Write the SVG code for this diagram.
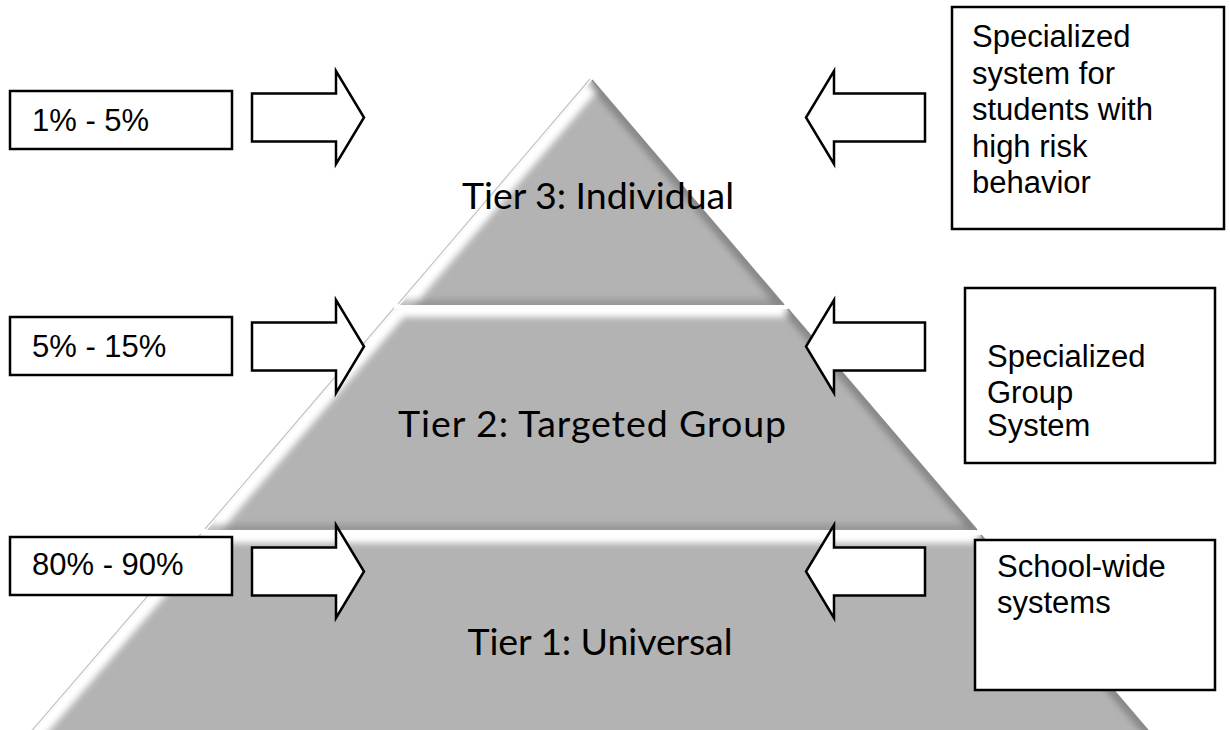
<svg xmlns="http://www.w3.org/2000/svg" width="1230" height="730" viewBox="0 0 1230 730">
<style>
.box{fill:#fff;stroke:#000;stroke-width:2.5}
.arr{fill:#fff;stroke:#000;stroke-width:2.5;stroke-linejoin:miter}
.lbl{font-family:"Liberation Sans",Arial,sans-serif;font-size:31px;fill:#000}
.tier{font-family:Lato,"Open Sans",sans-serif;font-size:37.5px;fill:#000;text-anchor:middle}
.fill{fill:#b3b3b3}
.hi{stroke:#fff;fill:none}
.lo{stroke:#7d7d7d;fill:none}
</style>
<defs>
<clipPath id="c3"><polygon points="592,80 784,305 400,305"/></clipPath>
<clipPath id="c2"><polygon points="396,309 788,309 977,530 207,530"/></clipPath>
<clipPath id="c1"><polygon points="203,535 981,535 1152,735 31,735"/></clipPath>
<filter id="bl" x="-10%" y="-10%" width="120%" height="120%"><feGaussianBlur stdDeviation="3"/></filter>
</defs>
<rect width="1230" height="730" fill="#fff"/>

<g id="tier3">
<g clip-path="url(#c3)">
<polygon class="fill" points="592,80 784,305 400,305"/>
<g filter="url(#bl)">
<line class="hi" x1="592" y1="80" x2="400" y2="305" stroke-width="22"/>
<line class="lo" x1="592" y1="80" x2="784" y2="305" stroke-width="12" opacity=".8"/>
<line class="lo" x1="400" y1="305" x2="784" y2="305" stroke-width="12" opacity=".5"/>
</g>
</g>
<line x1="590" y1="79" x2="398" y2="304" stroke="#c4c4c4" stroke-width="1.2"/>
<line x1="592" y1="80" x2="784" y2="305" stroke="#8a8a8a" stroke-width="1.5"/>
</g>

<g id="tier2">
<g clip-path="url(#c2)">
<polygon class="fill" points="396,309 788,309 977,530 207,530"/>
<g filter="url(#bl)">
<line class="hi" x1="396" y1="309" x2="207" y2="530" stroke-width="22"/>
<line class="hi" x1="396" y1="309" x2="788" y2="309" stroke-width="16"/>
<line class="lo" x1="788" y1="309" x2="977" y2="530" stroke-width="12" opacity=".8"/>
<line class="lo" x1="207" y1="530" x2="977" y2="530" stroke-width="12" opacity=".5"/>
</g>
</g>
<line x1="394" y1="308" x2="205" y2="529" stroke="#c4c4c4" stroke-width="1.2"/>
<line x1="788" y1="309" x2="977" y2="530" stroke="#8a8a8a" stroke-width="1.5"/>
</g>

<g id="tier1">
<g clip-path="url(#c1)">
<polygon class="fill" points="203,535 981,535 1152,735 31,735"/>
<g filter="url(#bl)">
<line class="hi" x1="203" y1="535" x2="31" y2="735" stroke-width="22"/>
<line class="hi" x1="203" y1="535" x2="981" y2="535" stroke-width="16"/>
<line class="lo" x1="981" y1="535" x2="1152" y2="735" stroke-width="12" opacity=".8"/>
</g>
</g>
<line x1="201" y1="534" x2="29" y2="734" stroke="#c4c4c4" stroke-width="1.2"/>
<line x1="981" y1="535" x2="1152" y2="735" stroke="#8a8a8a" stroke-width="1.5"/>
</g>

<g id="tier-labels">
<text class="tier" x="598" y="209" textLength="272" lengthAdjust="spacing">Tier 3: Individual</text>
<text class="tier" x="592" y="437" textLength="388" lengthAdjust="spacing">Tier 2: Targeted Group</text>
<text class="tier" x="600" y="655" textLength="265" lengthAdjust="spacing">Tier 1: Universal</text>
</g>

<g id="connectors">
<path class="arr" d="M252,93.5 H336 V71 L364,117.5 L336,164 V141.5 H252 Z"/>
<path class="arr" d="M252,322.5 H336 V300 L364,346.5 L336,393 V370.5 H252 Z"/>
<path class="arr" d="M252,547.5 H336 V525 L364,571.5 L336,618 V595.5 H252 Z"/>
<path class="arr" d="M925,93.5 H834 V71 L806,117.5 L834,164 V141.5 H925 Z"/>
<path class="arr" d="M925,322.5 H834 V300 L806,346.5 L834,393 V370.5 H925 Z"/>
<path class="arr" d="M925,547.5 H834 V525 L806,571.5 L834,618 V595.5 H925 Z"/>
</g>

<g id="box-1-5">
<rect class="box" x="10" y="91" width="222" height="58"/>
<text class="lbl" x="32" y="131">1% - 5%</text>
</g>
<g id="box-5-15">
<rect class="box" x="10" y="317" width="222" height="58"/>
<text class="lbl" x="32" y="357">5% - 15%</text>
</g>
<g id="box-80-90">
<rect class="box" x="10" y="537" width="222" height="58"/>
<text class="lbl" x="32" y="575">80% - 90%</text>
</g>

<g id="box-specialized-system">
<rect class="box" x="952" y="7" width="272" height="222"/>
<text class="lbl" x="972" y="47">Specialized</text>
<text class="lbl" x="972" y="83.5">system for</text>
<text class="lbl" x="972" y="120">students with</text>
<text class="lbl" x="972" y="156.5">high risk</text>
<text class="lbl" x="972" y="193">behavior</text>
</g>
<g id="box-group-system">
<rect class="box" x="965" y="288" width="250" height="175"/>
<text class="lbl" x="987" y="367">Specialized</text>
<text class="lbl" x="987" y="403">Group</text>
<text class="lbl" x="987" y="436">System</text>
</g>
<g id="box-school-wide">
<rect class="box" x="975" y="540" width="240" height="150"/>
<text class="lbl" x="997" y="577">School-wide</text>
<text class="lbl" x="997" y="613">systems</text>
</g>
</svg>
